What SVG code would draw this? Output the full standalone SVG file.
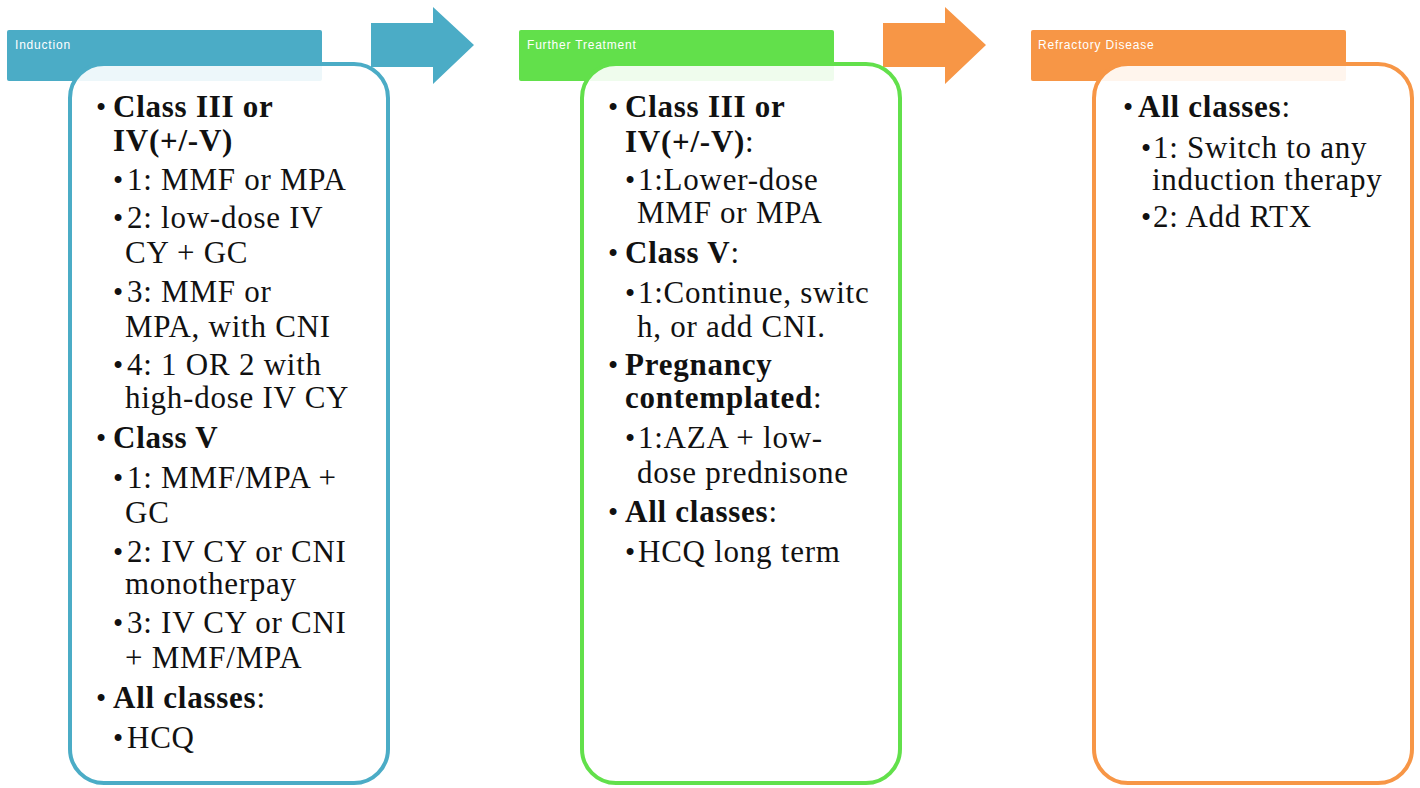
<svg xmlns="http://www.w3.org/2000/svg" width="1420" height="788" viewBox="0 0 1420 788">
<style>
.t{font-family:"Liberation Serif","Times New Roman",serif;font-size:31px;fill:#111;letter-spacing:0.75px;}
.b{font-weight:bold;}
.bl{font-family:"Liberation Serif",serif;font-size:29px;fill:#111;}
.hl{font-family:"Liberation Sans",Arial,sans-serif;font-size:12px;fill:#fff;letter-spacing:0.8px;}
.box{fill:#fff;fill-opacity:0.9;stroke-width:4;}
</style>
<rect width="1420" height="788" fill="#fff"/>
<g id="connectors">
<polygon points="371,23 433,23 433,7 474,45 433,84 433,67 371,67" fill="#4BACC6"/>
<polygon points="883,23 945,23 945,7 986,45 945,84 945,67 883,67" fill="#F79646"/>
</g>
<g id="induction">
<rect x="7" y="30" width="315" height="51" rx="2" fill="#4BACC6"/>
<text class="hl" x="15" y="49">Induction</text>
<rect class="box" x="70" y="64" width="318" height="719" rx="34" stroke="#4BACC6"/>
<g class="bl">
<text x="96" y="117">•</text><text x="96" y="448">•</text><text x="96" y="708">•</text>
<text x="113" y="190">•</text><text x="113" y="228">•</text><text x="113" y="302">•</text><text x="113" y="375">•</text>
<text x="113" y="488">•</text><text x="113" y="562">•</text><text x="113" y="633">•</text><text x="113" y="748">•</text>
</g>
<g class="t">
<text class="b" x="113" y="117">Class III or</text>
<text class="b" x="113" y="151">IV(+/-V)</text>
<text x="127" y="190">1: MMF or MPA</text>
<text x="127" y="228">2: low-dose IV</text>
<text x="125" y="263">CY + GC</text>
<text x="127" y="302">3: MMF or</text>
<text x="125" y="337">MPA, with CNI</text>
<text x="127" y="375">4: 1 OR 2 with</text>
<text x="125" y="408">high-dose IV CY</text>
<text class="b" x="113" y="448">Class V</text>
<text x="127" y="488">1: MMF/MPA +</text>
<text x="125" y="523">GC</text>
<text x="127" y="562">2: IV CY or CNI</text>
<text x="125" y="594">monotherpay</text>
<text x="127" y="633">3: IV CY or CNI</text>
<text x="125" y="668">+ MMF/MPA</text>
<text x="113" y="708"><tspan class="b">All classes</tspan>:</text>
<text x="127" y="748">HCQ</text>
</g>
</g>
<g id="further-treatment">
<rect x="519" y="30" width="315" height="51" rx="2" fill="#62E04B"/>
<text class="hl" x="527" y="49">Further Treatment</text>
<rect class="box" x="582" y="64" width="318" height="719" rx="34" stroke="#62E04B"/>
<g class="bl">
<text x="608" y="117">•</text><text x="608" y="263">•</text><text x="608" y="375">•</text><text x="608" y="522">•</text>
<text x="625" y="190">•</text><text x="625" y="303">•</text><text x="625" y="448">•</text><text x="625" y="562">•</text>
</g>
<g class="t">
<text class="b" x="625" y="117">Class III or</text>
<text x="625" y="152"><tspan class="b">IV(+/-V)</tspan>:</text>
<text x="638" y="190">1:Lower-dose</text>
<text x="637" y="223">MMF or MPA</text>
<text x="625" y="263"><tspan class="b">Class V</tspan>:</text>
<text x="638" y="303">1:Continue, switc</text>
<text x="637" y="337">h, or add CNI.</text>
<text class="b" x="625" y="375">Pregnancy</text>
<text x="625" y="408"><tspan class="b">contemplated</tspan>:</text>
<text x="638" y="448">1:AZA + low-</text>
<text x="637" y="483">dose prednisone</text>
<text x="625" y="522"><tspan class="b">All classes</tspan>:</text>
<text x="638" y="562">HCQ long term</text>
</g>
</g>
<g id="refractory-disease">
<rect x="1031" y="30" width="315" height="51" rx="2" fill="#F79646"/>
<text class="hl" x="1038" y="49">Refractory Disease</text>
<rect class="box" x="1094" y="64" width="318" height="719" rx="34" stroke="#F79646"/>
<g class="bl">
<text x="1123" y="117">•</text><text x="1141" y="158">•</text><text x="1141" y="227">•</text>
</g>
<g class="t">
<text x="1138" y="117"><tspan class="b">All classes</tspan>:</text>
<text x="1153" y="158">1: Switch to any</text>
<text x="1152" y="190">induction therapy</text>
<text x="1153" y="227">2: Add RTX</text>
</g>
</g>
</svg>
